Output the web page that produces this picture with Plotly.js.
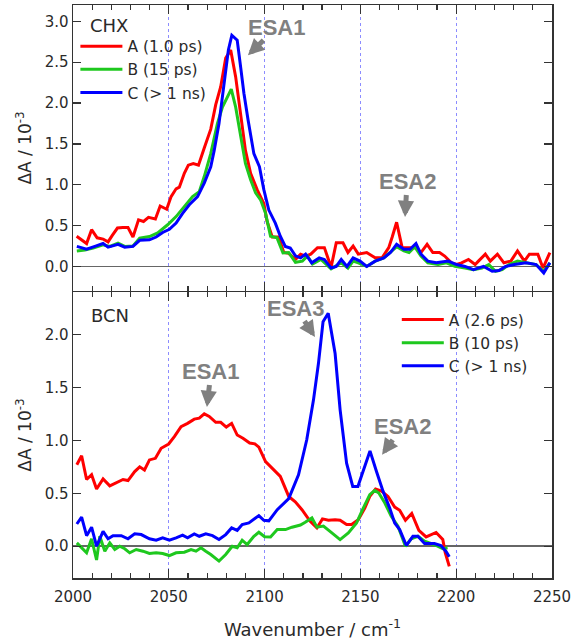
<!DOCTYPE html>
<html>
<head>
<meta charset="utf-8">
<script src="https://cdn.plot.ly/plotly-3.0.1.min.js"></script>
<style>html,body{margin:0;padding:0;background:#fff}#chart{width:571px;height:640px}</style>
</head>
<body>
<div id="chart"></div>
<script>
// ---------- CHX (top panel) ----------
const chxA_x = [2001.9,2007.1,2009.7,2012.6,2015.7,2018.3,2020.5,2023.2,2026,2028.7,2031.3,2034.2,2036.8,2039.4,2043,2045.5,2048.9,2051.2,2053.8,2055.5,2058.1,2060.2,2062.8,2065.5,2068.5,2071.9,2074.5,2077.1,2079.7,2082.3,2084.9,2087.5,2090,2092.7,2096.1,2099.6,2101.3,2104,2107.4,2110,2112.6,2116.1,2118.8,2121.4,2124.1,2127.6,2131.2,2134.7,2137.4,2140.9,2143.5,2146.2,2148.9,2153.3,2157.7,2161.3,2164.8,2166.6,2168.9,2171.8,2175.4,2179,2181.6,2184.8,2187.8,2191.3,2194,2197.5,2200.2,2202.8,2206.4,2209.9,2211.6,2215.2,2217.8,2221.5,2224.9,2228.5,2232,2235.6,2238.2,2242.6,2245.3,2248.9];
const chxA_y = [0.37,0.28,0.45,0.35,0.335,0.30,0.38,0.47,0.475,0.476,0.36,0.57,0.55,0.60,0.58,0.74,0.70,0.855,0.95,0.97,1.14,1.24,1.26,1.24,1.45,1.68,1.98,2.20,2.55,2.65,2.32,1.83,1.42,1.14,0.94,0.77,0.55,0.36,0.36,0.17,0.16,0.085,0.15,0.127,0.15,0.23,0.23,-0.01,0.29,0.29,0.17,0.25,0.15,0.17,0.105,0.105,0.23,0.36,0.54,0.23,0.23,0.23,0.17,0.27,0.17,0.17,0.127,0.044,0.023,0.044,0.085,0.023,0.065,0.15,0.065,0.15,0.044,0.065,0.19,0.065,0.15,0.15,-0.02,0.17];

const chxB_x = [2002,2006.2,2010.5,2015.7,2019.2,2023.5,2027,2031.3,2034.8,2039.9,2044.2,2049.4,2053.8,2058.1,2062.4,2065.9,2068.5,2071.9,2075.4,2078,2080.6,2082.6,2084.9,2087.5,2090,2092.7,2095.3,2097.9,2100.5,2103.1,2106.5,2109.6,2112.6,2116.1,2119.7,2122.4,2125,2129.4,2134.7,2140,2143.5,2146.2,2148.9,2153.3,2157.7,2162.2,2165.7,2168.9,2172.7,2175.4,2178.4,2181.6,2185.2,2190.5,2194.9,2199.3,2204.6,2209,2213.4,2217,2220.5,2224,2227.6,2232,2236.5,2241.7,2245.7,2248.9];
const chxB_y = [0.19,0.20,0.225,0.265,0.245,0.285,0.245,0.25,0.345,0.365,0.41,0.51,0.61,0.73,0.855,0.915,1.10,1.38,1.75,1.95,2.08,2.17,1.95,1.59,1.26,1.06,0.90,0.815,0.65,0.37,0.35,0.165,0.17,0.05,0.065,0.127,0.03,0.085,-0.03,0.045,-0.02,0.065,0.044,0.00,0.065,0.105,0.17,0.24,0.19,0.17,0.24,0.127,0.044,0.023,0.044,0.00,-0.02,-0.04,-0.02,0.023,-0.06,-0.04,0.023,0.065,0.044,0.023,-0.06,0.044];

const chxC_x = [2002,2007.1,2011.4,2015.7,2018.3,2023.5,2027,2031.3,2034.8,2039.9,2043.4,2046.8,2050.3,2053.8,2057.2,2060.7,2065,2068.5,2071.9,2073.7,2076.2,2078.8,2081.1,2082.9,2085.7,2087.5,2089.2,2091.4,2094.4,2097.3,2099.6,2102.2,2105.6,2108.2,2110.8,2113.4,2116.1,2118.8,2121.4,2124.6,2128.5,2131.2,2134.7,2137.4,2140,2143,2146.2,2149.8,2153.3,2157.7,2162.2,2165.7,2168.9,2172.7,2175.9,2179,2181.6,2185.2,2189.6,2195.8,2200.2,2204.6,2209,2214.3,2218.8,2222.3,2225.8,2230.3,2236.5,2241.7,2245.7,2248.9];
const chxC_y = [0.245,0.21,0.245,0.28,0.235,0.27,0.235,0.245,0.32,0.325,0.36,0.415,0.455,0.53,0.65,0.755,0.855,1.02,1.22,1.42,1.75,2.24,2.65,2.83,2.77,2.44,2.12,1.79,1.38,1.22,0.94,0.69,0.53,0.37,0.245,0.225,0.13,0.105,0.15,0.044,0.105,0.085,-0.02,0.00,0.085,0.00,0.105,0.065,0.00,0.065,0.105,0.17,0.27,0.21,0.21,0.28,0.15,0.065,0.044,0.065,0.023,0.00,-0.04,0.00,-0.06,-0.05,0.00,0.023,0.044,0.023,-0.08,0.044];

// ---------- BCN (bottom panel) ----------
const bcnA_x = [2002,2004.5,2007.1,2009.7,2012.3,2015.7,2019.2,2022.7,2026.1,2028.7,2032.2,2034.8,2037.3,2039.9,2043,2046,2049.9,2052.9,2056.4,2059.8,2063.3,2065.9,2068.5,2071.1,2074.5,2077.1,2080,2082.8,2085.7,2088.7,2092.2,2094.9,2097,2100.5,2104.8,2108.2,2112.6,2116,2119.5,2123.8,2127.3,2130.2,2133.3,2136.8,2139.4,2142.8,2145.4,2148.9,2152.3,2154.9,2157.9,2161,2164.4,2167.9,2170.5,2173.5,2176.8,2180.5,2184.3,2189.5,2193,2194.3,2196.4];
const bcnA_y = [0.77,0.855,0.63,0.675,0.54,0.635,0.57,0.60,0.63,0.62,0.705,0.75,0.72,0.815,0.83,0.925,0.965,1.035,1.13,1.16,1.20,1.21,1.25,1.225,1.17,1.17,1.125,1.16,1.05,1.02,0.975,0.967,0.935,0.80,0.72,0.66,0.47,0.42,0.345,0.235,0.173,0.258,0.245,0.25,0.245,0.205,0.205,0.25,0.36,0.47,0.54,0.52,0.47,0.37,0.34,0.245,0.31,0.15,0.088,0.13,0.063,-0.062,-0.19];

const bcnB_x = [2002,2004.5,2007.1,2009.7,2012.3,2014,2016.6,2019.2,2021.8,2024.4,2027,2029.6,2033,2036.5,2039.9,2043.4,2046.8,2050.3,2053.8,2058.1,2061.6,2064.2,2066.8,2069.3,2071.9,2076.2,2079.7,2083.1,2085.7,2088.3,2090.9,2094.4,2097,2100,2103.1,2106.6,2110.9,2114.3,2118.7,2121.2,2124.7,2127.3,2130.7,2135.1,2139.4,2143.7,2148,2151.5,2154.9,2157.5,2159.6,2162.7,2166.1,2169.6,2173.5,2176.5,2180,2183.5,2189.5,2193,2195.5];
const bcnB_y = [0.032,-0.015,-0.062,0.07,-0.13,0.094,-0.047,0.032,-0.031,0.00,-0.024,-0.062,-0.031,-0.047,-0.069,-0.062,-0.069,-0.088,-0.062,-0.056,-0.031,-0.047,-0.015,-0.047,-0.078,-0.14,-0.078,0.00,-0.015,0.057,0.016,0.094,0.132,0.09,0.088,0.157,0.157,0.18,0.20,0.226,0.267,0.18,0.19,0.126,0.063,0.126,0.22,0.36,0.487,0.527,0.503,0.41,0.283,0.19,0.00,0.07,0.094,0.047,0.007,-0.024,-0.015];

const bcnC_x = [2002,2004.5,2007.1,2009.7,2012.3,2015.7,2018.3,2020.9,2025.2,2028.7,2032.2,2035.6,2039.9,2043.4,2046.8,2050.3,2053.8,2057.2,2059.8,2063.3,2065.9,2069.3,2072.8,2076.2,2079.7,2082.8,2085.7,2088.3,2091.8,2094.4,2097,2099.6,2102.2,2106.6,2112.6,2117.7,2122,2125.5,2128.1,2130.5,2133.2,2136.8,2139.4,2142.8,2146,2148.7,2151.5,2155,2158.4,2161.8,2165.3,2167.9,2170.5,2174,2177.4,2180,2183.5,2188.6,2192,2194.6,2196.4];
const bcnC_y = [0.21,0.275,0.10,0.18,0.00,0.14,0.07,0.10,0.10,0.07,0.117,0.11,0.07,0.057,0.079,0.057,0.079,0.104,0.079,0.117,0.094,0.117,0.10,0.063,0.11,0.173,0.15,0.204,0.22,0.258,0.289,0.245,0.24,0.345,0.45,0.675,1.005,1.38,1.725,2.12,2.20,1.82,1.29,0.785,0.565,0.565,0.72,0.90,0.705,0.52,0.36,0.22,0.157,0.007,0.094,0.094,0.025,0.025,0.007,-0.047,-0.10];

const chxNames = ['A (1.0 ps)', 'B (15 ps)', 'C (> 1 ns)'];
const bcnNames = ['A (2.6 ps)', 'B (10 ps)', 'C (> 1 ns)'];
const colors = ['#ff0000', '#1ec81e', '#0000ff'];

const panelLabels = ['CHX', 'BCN'];
const xTitle = 'Wavenumber / cm<sup>-1</sup>';
const yTitle = '\u0394A / 10<sup>-3</sup>';

const chx = [[chxA_x, chxA_y], [chxB_x, chxB_y], [chxC_x, chxC_y]];
const bcn = [[bcnA_x, bcnA_y], [bcnB_x, bcnB_y], [bcnC_x, bcnC_y]];

const traces = [];
chx.forEach((s, i) => traces.push({
  x: s[0], y: s[1], type: 'scatter', mode: 'lines', name: chxNames[i],
  xaxis: 'x2', yaxis: 'y2', legend: 'legend',
  line: {color: colors[i], width: 3}
}));
bcn.forEach((s, i) => traces.push({
  x: s[0], y: s[1], type: 'scatter', mode: 'lines', name: bcnNames[i],
  xaxis: 'x', yaxis: 'y', legend: 'legend2',
  line: {color: colors[i], width: 3}
}));

const font = 'DejaVu Sans, Verdana, sans-serif';
const ink = '#2a2a2a';
const xCommon = {
  range: [2000, 2250], tick0: 2000, dtick: 50,
  ticks: 'inside', ticklen: 9, tickwidth: 1.3, tickcolor: '#333',
  showline: true, linecolor: '#333', linewidth: 1.5, mirror: 'ticks',
  showgrid: true, gridcolor: '#8c8cff', griddash: 'dot', gridwidth: 1,
  zeroline: false, ticklabeloverflow: 'allow', ticklabelstandoff: 4,
  minor: {dtick: 10, ticks: 'inside', ticklen: 5, tickwidth: 1.2, tickcolor: '#333', showgrid: false},
  tickfont: {family: font, size: 15, color: ink}
};
const yCommon = {
  dtick: 0.5, tick0: 0, tickformat: '.1f',
  ticks: 'inside', ticklen: 8, tickwidth: 1.3, tickcolor: '#333',
  showline: true, linecolor: '#333', linewidth: 1.5, mirror: 'ticks',
  showgrid: false, zeroline: true, zerolinecolor: '#666', zerolinewidth: 1.5,
  tickfont: {family: font, size: 15, color: ink},
  title: {text: yTitle, font: {family: font, size: 17, color: ink}, standoff: 8}
};

const gray = '#808080';
const lab = {family: 'Liberation Sans, Arial, sans-serif', size: 22, color: gray, weight: 'bold'};
// label with an arrow: (x, y) is the arrow head, (ax, ay) the pixel offset of the label
const esa = (t, x, y, ax, ay, xr, yr) => ({
  x: x, y: y, xref: xr, yref: yr, ax: ax, ay: ay, text: t, font: lab,
  showarrow: true, arrowhead: 2, arrowsize: 0.65, arrowwidth: 5, arrowcolor: gray,
  borderpad: 0
});
const txt = (t, x, y, xr, yr, f, xa) => ({
  x: x, y: y, xref: xr, yref: yr, text: t, showarrow: false, font: f,
  xanchor: xa || 'center', yanchor: 'middle'
});

const layout = {
  width: 571, height: 640,
  margin: {l: 73, r: 19, t: 5, b: 62},
  paper_bgcolor: '#fff', plot_bgcolor: '#fff',
  showlegend: true,
  xaxis: Object.assign({}, xCommon, {anchor: 'y', domain: [0, 1],
    title: {text: xTitle, font: {family: font, size: 18, color: ink}, standoff: 24}}),
  xaxis2: Object.assign({}, xCommon, {anchor: 'y2', matches: 'x', showticklabels: false}),
  yaxis: Object.assign({}, yCommon, {domain: [0, 0.499], range: [-0.3, 2.4], anchor: 'x'}),
  yaxis2: Object.assign({}, yCommon, {domain: [0.501, 1], range: [-0.3, 3.2], anchor: 'x2'}),
  legend: {x: 0.005, y: 0.957, xanchor: 'left', yanchor: 'top', bgcolor: 'rgba(0,0,0,0)',
    font: {family: font, size: 15.5, color: ink}, tracegroupgap: 0, itemwidth: 42},
  legend2: {x: 0.676, y: 0.480, xanchor: 'left', yanchor: 'top', bgcolor: 'rgba(0,0,0,0)',
    font: {family: font, size: 15.5, color: ink}, tracegroupgap: 0, itemwidth: 42},
  annotations: [
    txt(panelLabels[0], 2007.8, 2.95, 'x2', 'y2', {family: font, size: 18, color: ink}, 'left'),
    txt(panelLabels[1], 2008.3, 2.175, 'x', 'y', {family: font, size: 18, color: ink}, 'left'),
    esa('ESA1', 2091.3, 2.585, 29, -28, 'x2', 'y2'),
    esa('ESA2', 2173.3, 0.605, 2, -35, 'x2', 'y2'),
    esa('ESA1', 2069.9, 1.315, 4, -35, 'x', 'y'),
    esa('ESA3', 2126.3, 1.975, -19, -29, 'x', 'y'),
    esa('ESA2', 2161.3, 0.863, 20, -28, 'x', 'y')
  ]
};

Plotly.newPlot('chart', traces, layout, {displayModeBar: false, staticPlot: true});
</script>
</body>
</html>
